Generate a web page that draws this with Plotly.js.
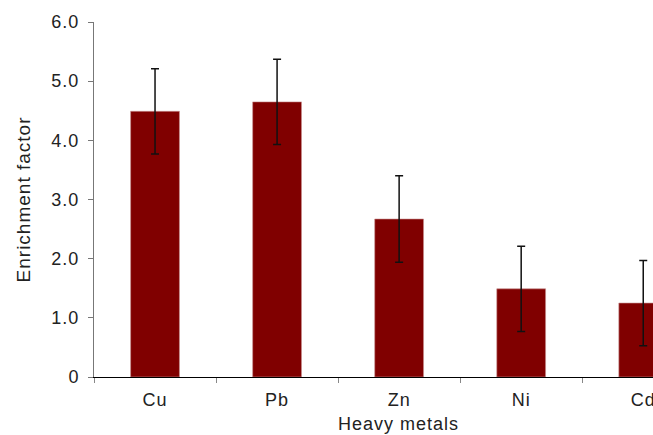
<!DOCTYPE html>
<html>
<head>
<meta charset="utf-8">
<script src="https://cdn.plot.ly/plotly-3.0.1.min.js"></script>
<style>
html,body{margin:0;padding:0;background:#fff;overflow:hidden}
#chart text{letter-spacing:1px}
</style>
</head>
<body>
<div id="chart" style="width:653px;height:435px"></div>
<script>
const metals = ["Cu", "Pb", "Zn", "Ni", "Cd"];
const enrichment = [4.49, 4.65, 2.67, 1.49, 1.25];
const errors = [0.72, 0.72, 0.73, 0.72, 0.72];
const yTickVals = [0, 1, 2, 3, 4, 5, 6];
const yTickText = ["0", "1.0", "2.0", "3.0", "4.0", "5.0", "6.0"];

const font = {family: "Liberation Sans, Arial, sans-serif", size: 18, color: "#222"};
const yTitleFont = {family: "Liberation Sans, Arial, sans-serif", size: 19, color: "#222"};

Plotly.newPlot("chart", [{
  type: "bar",
  x: metals,
  y: enrichment,
  width: 0.4,
  marker: {color: "#800000", line: {color: "#c89090", width: 0.6}},
  error_y: {type: "data", array: errors, visible: true, color: "#111", thickness: 1.5, width: 4}
}], {
  width: 653, height: 435,
  margin: {l: 94, r: 0, t: 22, b: 58},
  paper_bgcolor: "#fff", plot_bgcolor: "#fff",
  font: font,
  showlegend: false,
  xaxis: {
    range: [-0.5, 4.08],
    tickson: "boundaries",
    ticks: "outside", ticklen: 5, tickcolor: "#888",
    ticklabelstandoff: 6,
    showline: true, linecolor: "#000", linewidth: 1.2,
    showgrid: false, zeroline: false,
    tickfont: font
  },
  yaxis: {
    range: [0, 6],
    tickvals: yTickVals, ticktext: yTickText,
    ticks: "outside", ticklen: 5, tickcolor: "#777",
    ticklabelstandoff: 5,
    showline: true, linecolor: "#777", linewidth: 1,
    showgrid: false, zeroline: false,
    tickfont: font,
    title: {text: "Enrichment factor", font: yTitleFont, standoff: 18}
  },
  annotations: [{
    text: "Heavy metals", xref: "paper", yref: "paper",
    x: 0.544, y: 0, xanchor: "center", yanchor: "middle", yshift: -47,
    showarrow: false, font: font
  }]
}, {staticPlot: true, displayModeBar: false});
</script>
</body>
</html>
